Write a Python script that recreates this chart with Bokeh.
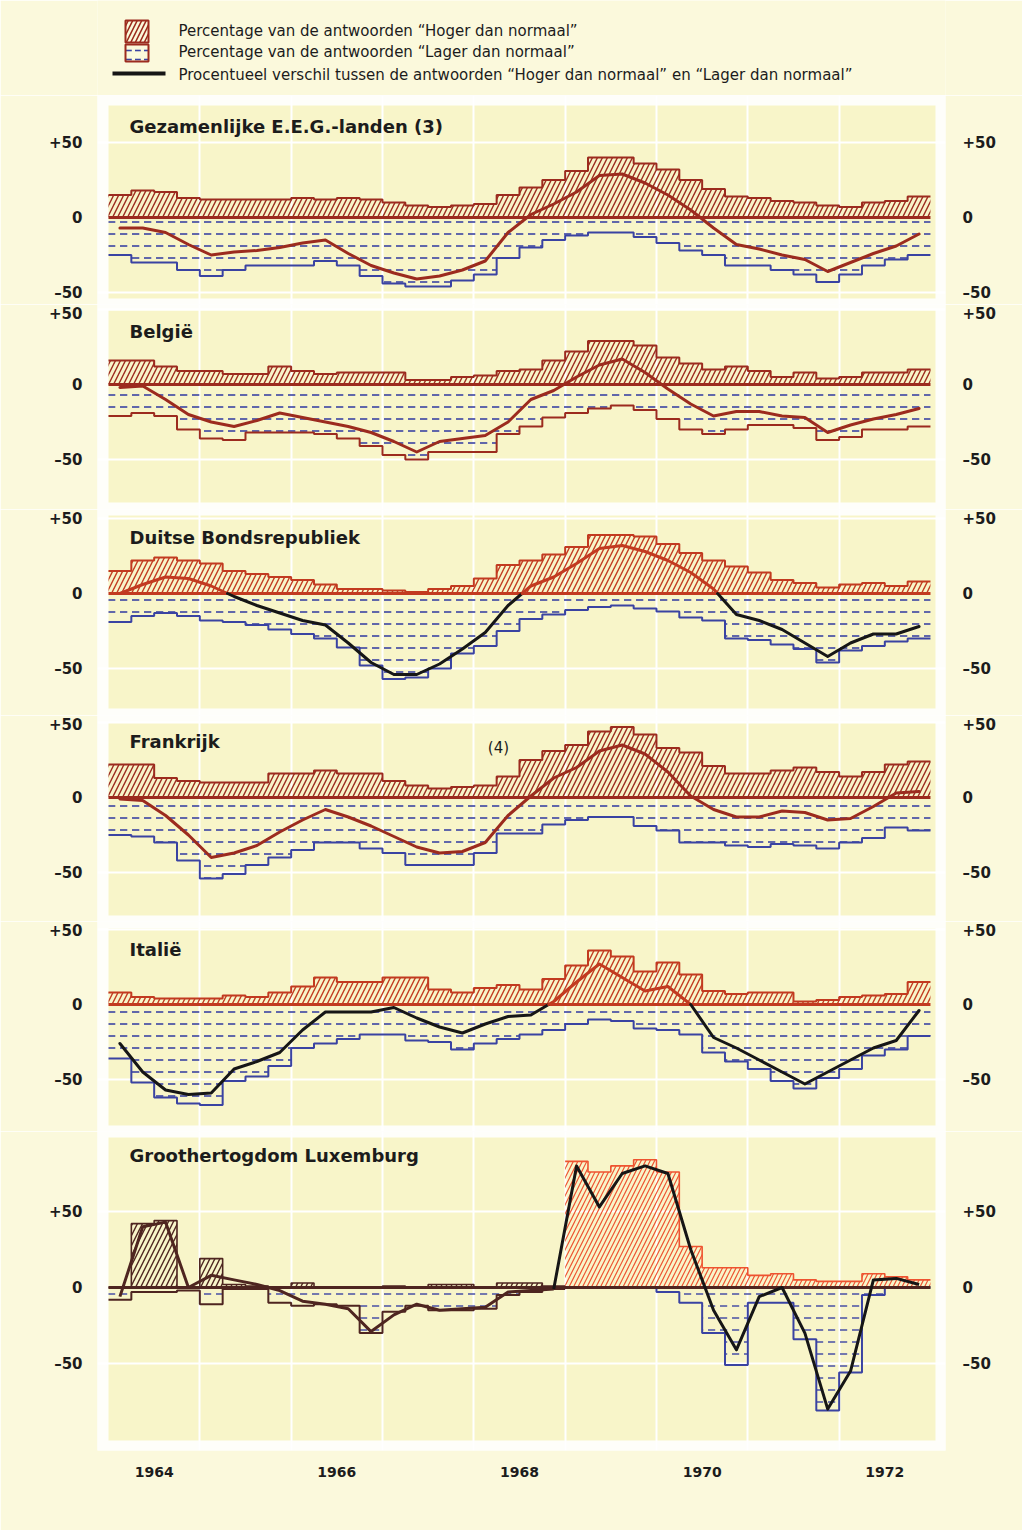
import numpy as np
from bokeh.plotting import figure
from bokeh.layouts import column
from bokeh.models import FixedTicker, Label, Range1d, LinearAxis, Grid
from bokeh.embed import file_html
from bokeh.resources import INLINE

# ---------------- data (quarterly, 1964Q1 .. 1972Q4) ----------------
year_labels = ["1964", "1966", "1968", "1970", "1972"]
year_label_pos = [1964.5, 1966.5, 1968.5, 1970.5, 1972.5]

titles = ["Gezamenlijke E.E.G.-landen (3)", "België", "Duitse Bondsrepubliek",
          "Frankrijk", "Italië", "Groothertogdom Luxemburg"]

eeg_up = [15, 18, 17, 13, 12, 12, 12, 12, 13, 12, 13, 12, 10, 8, 7, 8, 9, 15, 20, 25, 31, 40, 40, 36, 32, 25, 19, 14, 13, 11, 10, 8, 7, 10, 11, 14]
eeg_down = [25, 30, 30, 35, 39, 35, 32, 32, 32, 29, 32, 39, 44, 46, 46, 42, 38, 27, 20, 15, 12, 10, 10, 13, 17, 22, 25, 32, 32, 35, 38, 43, 38, 32, 28, 25]
eeg_line = [-7, -7, -10, -18, -25, -23, -22, -20, -17, -15, -24, -32, -37, -41, -39, -35, -29, -10, 2, 9, 17, 28, 29, 23, 15, 5, -7, -18, -21, -25, -28, -36, -30, -24, -19, -11]

be_up = [16, 16, 12, 9, 9, 7, 7, 12, 9, 7, 8, 8, 8, 3, 3, 5, 6, 9, 10, 16, 22, 29, 29, 26, 18, 14, 10, 12, 9, 5, 8, 4, 5, 8, 8, 10]
be_down = [21, 19, 21, 30, 36, 37, 32, 32, 32, 33, 36, 41, 47, 50, 45, 45, 45, 33, 28, 22, 19, 16, 14, 17, 23, 30, 33, 30, 27, 27, 29, 37, 35, 30, 30, 28]
be_line = [-2, -1, -10, -20, -25, -28, -24, -19, -22, -25, -28, -32, -38, -45, -38, -36, -34, -25, -10, -4, 5, 13, 17, 8, -3, -13, -21, -18, -18, -21, -22, -32, -27, -23, -20, -16]

de_up = [15, 22, 24, 22, 20, 15, 13, 11, 9, 6, 3, 3, 2, 1, 3, 5, 10, 19, 22, 26, 31, 39, 39, 38, 33, 27, 22, 18, 14, 9, 7, 4, 6, 7, 5, 8]
de_down = [19, 15, 13, 15, 18, 19, 21, 24, 27, 30, 36, 48, 57, 56, 50, 40, 35, 25, 17, 14, 11, 9, 8, 10, 12, 16, 18, 30, 31, 34, 37, 46, 38, 35, 32, 30]
de_line = [0, 6, 11, 10, 5, -2, -8, -13, -18, -21, -33, -46, -54, -54, -47, -37, -26, -8, 5, 11, 20, 30, 32, 28, 22, 14, 3, -14, -18, -24, -33, -42, -33, -27, -27, -22]

fr_up = [22, 22, 13, 11, 10, 10, 10, 16, 16, 18, 16, 16, 11, 8, 6, 7, 8, 14, 25, 31, 35, 44, 47, 42, 33, 30, 21, 16, 16, 18, 20, 17, 14, 17, 22, 24]
fr_down = [25, 26, 30, 42, 54, 51, 45, 40, 35, 30, 30, 34, 37, 45, 45, 45, 37, 24, 24, 18, 15, 13, 13, 19, 22, 30, 30, 32, 33, 31, 32, 34, 30, 27, 20, 22]
fr_line = [-1, -2, -12, -25, -40, -37, -32, -23, -15, -8, -13, -19, -26, -33, -37, -36, -30, -12, 1, 13, 20, 31, 35, 29, 17, 1, -8, -13, -13, -9, -10, -15, -14, -6, 3, 4]

it_up = [8, 5, 4, 4, 4, 6, 5, 8, 12, 18, 15, 15, 18, 18, 10, 8, 11, 13, 10, 17, 26, 36, 32, 22, 28, 20, 9, 7, 8, 8, 2, 3, 5, 6, 7, 15]
it_down = [36, 52, 62, 66, 67, 51, 48, 41, 29, 26, 23, 20, 20, 24, 25, 30, 26, 23, 20, 17, 13, 10, 11, 16, 17, 20, 32, 38, 43, 51, 56, 49, 43, 34, 30, 21]
it_line = [-26, -45, -57, -60, -59, -43, -38, -32, -17, -5, -5, -5, -2, -9, -15, -19, -13, -8, -7, 2, 15, 27, 18, 9, 12, 0, -22, -29, -37, -45, -53, -45, -37, -29, -24, -4]

lux_up = [0, 42, 44, 0, 19, 2, 1, 0, 3, 0, 0, 0, 1, 0, 2, 2, 0, 3, 3, 1, 83, 76, 80, 84, 76, 27, 13, 13, 8, 9, 5, 4, 4, 9, 7, 5]
lux_down = [8, 3, 3, 2, 11, 1, 1, 10, 12, 11, 12, 30, 16, 12, 15, 15, 14, 5, 3, 1, 0, 0, 0, 0, 3, 10, 30, 51, 10, 10, 34, 81, 56, 5, 0, 0]
lux_line = [-6, 40, 43, 0, 8, 5, 2, -2, -9, -11, -14, -29, -18, -11, -15, -14, -13, -3, -2, -1, 80, 53, 75, 80, 75, 25, -15, -41, -6, 0, -30, -80, -55, 5, 6, 2]

legend_texts = ["Percentage van de antwoorden “Hoger dan normaal”",
                "Percentage van de antwoorden “Lager dan normaal”",
                "Procentueel verschil tussen de antwoorden “Hoger dan normaal” en “Lager dan normaal”"]

# ---------------- style ----------------
PAGE = "#fbf9dc"
PANEL = "#f8f5c9"
WHITE = "#fefefa"
BROWN = "#9c2b1e"
RED = "#c23a20"
DARK = "#4e2520"
ORANGE = "#ee5330"
BLUE = "#3a43a2"
BLACK = "#161616"
FONT = "DejaVu Sans"

N = 36
edges = 1964 + np.arange(N + 1) / 4.0
centers = 1964 + (np.arange(N) + 0.5) / 4.0

PXY = 91.33                      # pixels per year
X0 = 1964 - 11 / PXY
X1 = X0 + 848 / PXY

W = 1022
LB, RB = 97, 77


def steps(p, vals, sign, lo, hi, hatch, hcolor, lcolor, lw=2.0, scale=10, weight=1.4):
    v = [sign * float(a) for a in vals[lo:hi]]
    xe = list(edges[lo:hi + 1])
    p.varea_step(x=xe, y1=[0] * len(xe), y2=v + [v[-1]], step_mode="after",
                 fill_color=None, hatch_pattern=hatch, hatch_color=hcolor,
                 hatch_scale=scale, hatch_weight=weight)
    p.step(x=xe, y=v + [v[-1]], mode="after", line_color=lcolor, line_width=lw)


def sign_runs(xs, ys):
    runs = []
    cur = ys[0] >= 0
    cx, cy = [xs[0]], [ys[0]]
    for i in range(1, len(xs)):
        xa, ya, xb, yb = xs[i - 1], ys[i - 1], xs[i], ys[i]
        s = yb >= 0
        if s != cur:
            t = ya / (ya - yb)
            xc = xa + t * (xb - xa)
            cx.append(xc); cy.append(0)
            runs.append((cur, cx, cy))
            cx, cy = [xc], [0]
            cur = s
        cx.append(xb); cy.append(yb)
    runs.append((cur, cx, cy))
    return runs


def base_panel(frame_top, frame_bot, zero_y, bg_top, bg_bot, ppu, last=False):
    y_hi = (zero_y - frame_top) / ppu
    y_lo = -(frame_bot - zero_y) / ppu
    bb = 80 if last else 0
    h = frame_bot - frame_top + bb
    p = figure(width=W, height=h, x_range=Range1d(X0, X1), y_range=Range1d(y_lo, y_hi),
               output_backend="svg", toolbar_location=None,
               x_axis_location="below" if last else None,
               min_border_left=LB, min_border_right=RB, min_border_top=0,
               min_border_bottom=bb,
               background_fill_color=WHITE, border_fill_color=PAGE, outline_line_color=None)
    p.quad(left=[X0 + 11 / PXY], right=[X1 - 10 / PXY],
           top=[(zero_y - bg_top) / ppu], bottom=[-(bg_bot - zero_y) / ppu],
           fill_color=PANEL, line_color=None, level="image")
    p.xgrid.grid_line_color = None
    p.ygrid.grid_line_color = None
    p.add_layout(Grid(dimension=0, ticker=FixedTicker(ticks=list(range(1965, 1973))),
                      grid_line_color="white", grid_line_width=2))
    p.add_layout(Grid(dimension=1, ticker=FixedTicker(ticks=[-50, 50]),
                      grid_line_color="white", grid_line_width=2))
    ax_r = LinearAxis()
    p.add_layout(ax_r, "right")
    for ax, so in ((p.yaxis[0], 9), (ax_r, 11)):
        ax.ticker = FixedTicker(ticks=[-50, 0, 50])
        ax.major_label_overrides = {-50: "–50", 0: "0", 50: "+50"}
        ax.axis_line_color = None
        ax.major_tick_line_color = None
        ax.minor_tick_line_color = None
        ax.major_label_standoff = so
        ax.major_label_text_font = FONT
        ax.major_label_text_font_style = "bold"
        ax.major_label_text_font_size = "15px"
        ax.major_label_text_color = "#1c1c1c"
    if last:
        xa = p.xaxis[0]
        xa.ticker = FixedTicker(ticks=year_label_pos)
        xa.major_label_overrides = dict(zip(year_label_pos, year_labels))
        xa.axis_line_color = None
        xa.major_tick_line_color = None
        xa.minor_tick_line_color = None
        xa.major_label_standoff = 10
        xa.major_label_text_font = FONT
        xa.major_label_text_font_style = "bold"
        xa.major_label_text_font_size = "14px"
        xa.major_label_text_color = "#1c1c1c"
    return p


def title(p, text, y, size="18px"):
    p.add_layout(Label(x=X0 + 32 / PXY, y=y, text=text, text_font=FONT, text_font_style="bold",
                       text_font_size=size, text_baseline="middle", text_color="#1c1c1c"))


def zero_line(p, color):
    p.line(x=[edges[0], edges[-1]], y=[0, 0], line_color=color, line_width=3)


def std_panel(p, up, down, line, upc, downc, line_pos, line_neg):
    steps(p, down, -1, 0, N, '"', BLUE, downc, scale=12, weight=1.6)
    steps(p, up, 1, 0, N, "/", upc, upc)
    zero_line(p, upc)
    for pos, xs, ys in sign_runs(list(centers), [float(v) for v in line]):
        p.line(x=xs, y=ys, line_color=line_pos if pos else line_neg, line_width=3,
               line_join="round", line_cap="round")


# ---------------- legend strip (page pixel coordinates) ----------------
leg = figure(width=W, height=95, x_range=Range1d(97, 945), y_range=Range1d(95, 0),
             output_backend="svg", toolbar_location=None, x_axis_location=None, y_axis_location=None,
             min_border_left=LB, min_border_right=RB, min_border_top=0, min_border_bottom=0,
             background_fill_color=PAGE, border_fill_color=PAGE, outline_line_color=None)
leg.xgrid.grid_line_color = None
leg.ygrid.grid_line_color = None
leg.quad(left=[125], right=[148], top=[20], bottom=[42], fill_color=None, line_color=BROWN,
         line_width=2, hatch_pattern="/", hatch_color=BROWN, hatch_scale=9, hatch_weight=1.6)
leg.quad(left=[125], right=[148], top=[44], bottom=[61], fill_color=None, line_color=BROWN,
         line_width=2, hatch_pattern='"', hatch_color=BLUE, hatch_scale=9, hatch_weight=1.6)
leg.line(x=[112, 165], y=[73, 73], line_color=BLACK, line_width=4)
for t, yy in zip(legend_texts, [30, 51, 74]):
    leg.add_layout(Label(x=178, y=yy, text=t, text_font=FONT, text_font_size="15px",
                         text_baseline="middle", text_color="#1c1c1c"))

# ---------------- panels ----------------
p1 = base_panel(95, 304, 217, 105, 298, 1.5)
std_panel(p1, eeg_up, eeg_down, eeg_line, BROWN, BLUE, BROWN, BROWN)
title(p1, titles[0], 60.7)

p2 = base_panel(304, 509, 384, 310, 502, 1.5)
std_panel(p2, be_up, be_down, be_line, BROWN, BROWN, BROWN, BROWN)
title(p2, titles[1], 35.3)

p3 = base_panel(509, 715, 593, 515, 708, 1.5)
std_panel(p3, de_up, de_down, de_line, RED, BLUE, RED, BLACK)
title(p3, titles[2], 37.3)

p4 = base_panel(715, 921, 797, 722, 915, 1.5)
std_panel(p4, fr_up, fr_down, fr_line, BROWN, BLUE, BROWN, BROWN)
title(p4, titles[3], 37.3)
p4.add_layout(Label(x=1968.27, y=33.3, text="(4)", text_font=FONT, text_font_size="15px",
                    text_align="center", text_baseline="middle", text_color="#1c1c1c"))

p5 = base_panel(921, 1131, 1004, 928, 1125, 1.5)
std_panel(p5, it_up, it_down, it_line, RED, BLUE, RED, BLACK)
title(p5, titles[4], 36.7)

p6 = base_panel(1131, 1450, 1287, 1137, 1440, 1.52, last=True)
SPLIT = 20
steps(p6, lux_down, -1, 0, SPLIT, '"', BLUE, DARK, scale=12)
steps(p6, lux_down, -1, SPLIT, N, '"', BLUE, BLUE, scale=12)
steps(p6, lux_up, 1, 0, SPLIT, "/", DARK, DARK, lw=1.6)
steps(p6, lux_up, 1, SPLIT, N, "/", ORANGE, ORANGE, lw=1.6, scale=9, weight=1.2)
zero_line(p6, DARK)
p6.line(x=list(centers[:SPLIT]), y=lux_line[:SPLIT], line_color=DARK, line_width=3, line_join="round")
p6.line(x=list(centers[SPLIT - 1:]), y=lux_line[SPLIT - 1:], line_color=BLACK, line_width=3, line_join="round")
title(p6, titles[5], 86.8)

layout = column(leg, p1, p2, p3, p4, p5, p6, spacing=0)
open("out.html", "w").write(file_html(layout, INLINE))
